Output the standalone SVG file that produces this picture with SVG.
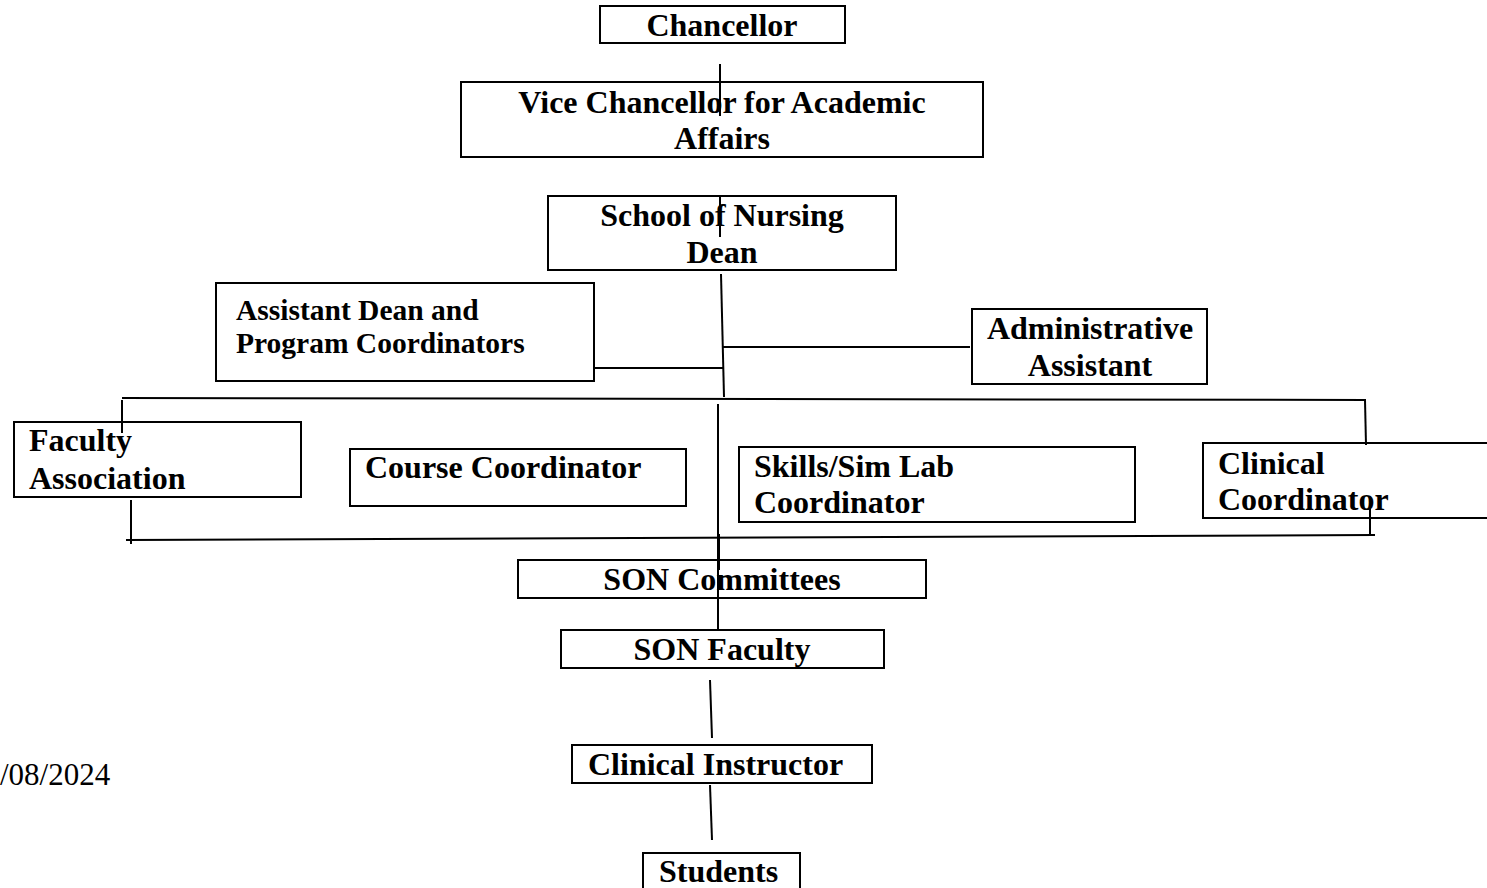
<svg xmlns="http://www.w3.org/2000/svg" width="1487" height="888" viewBox="0 0 1487 888">
<style>
.box{fill:#fff;stroke:#000;stroke-width:2}
.t{font-family:"Liberation Serif","Times New Roman",serif;font-weight:bold;font-size:32px;fill:#000}
.c{text-anchor:middle}
.s{font-size:29.5px}
.ln{stroke:#000;stroke-width:2;fill:none}
.date{font-family:"Liberation Serif","Times New Roman",serif;font-size:31px;fill:#000}
</style>
<rect width="1487" height="888" fill="#fff"/>
<g id="chancellor"><rect class="box" x="600" y="6" width="245" height="37"/><text class="t c" x="722" y="36">Chancellor</text></g>
<g id="vice-chancellor"><rect class="box" x="461" y="82" width="522" height="75"/><text class="t c" x="722" y="113">Vice Chancellor for Academic</text><text class="t c" x="722" y="149">Affairs</text></g>
<g id="dean"><rect class="box" x="548" y="196" width="348" height="74"/><text class="t c" x="722" y="226">School of Nursing</text><text class="t c" x="722" y="263">Dean</text></g>
<g id="assistant-dean"><rect class="box" x="216" y="283" width="378" height="98"/><text class="t s" x="236" y="320">Assistant Dean and</text><text class="t s" x="236" y="353">Program Coordinators</text></g>
<g id="admin-assistant"><rect class="box" x="972" y="309" width="235" height="75"/><text class="t c" x="1090" y="339">Administrative</text><text class="t c" x="1090" y="376">Assistant</text></g>
<g id="faculty-association"><rect class="box" x="14" y="422" width="287" height="75"/><text class="t" x="29" y="451">Faculty</text><text class="t" x="29" y="489">Association</text></g>
<g id="course-coordinator"><rect class="box" x="350" y="449" width="336" height="57"/><text class="t" x="365" y="478">Course Coordinator</text></g>
<g id="skills-lab"><rect class="box" x="739" y="447" width="396" height="75"/><text class="t" x="754" y="477">Skills/Sim Lab</text><text class="t" x="754" y="513">Coordinator</text></g>
<g id="clinical-coordinator"><rect class="box" x="1203" y="443" width="300" height="75"/><text class="t" x="1218" y="474">Clinical</text><text class="t" x="1218" y="510">Coordinator</text></g>
<g id="son-committees"><rect class="box" x="518" y="560" width="408" height="38"/><text class="t c" x="722" y="590">SON Committees</text></g>
<g id="son-faculty"><rect class="box" x="561" y="630" width="323" height="38"/><text class="t c" x="722" y="660">SON Faculty</text></g>
<g id="clinical-instructor"><rect class="box" x="572" y="745" width="300" height="38"/><text class="t" x="588" y="775">Clinical Instructor</text></g>
<g id="students"><rect class="box" x="643" y="853" width="157" height="45"/><text class="t" x="659" y="882">Students</text></g>
<g id="date"><text class="date" x="0" y="785">/08/2024</text></g>
<g id="connectors">
<line class="ln" x1="720" y1="64" x2="720" y2="116"/>
<line class="ln" x1="720" y1="197" x2="720" y2="237"/>
<line class="ln" x1="721" y1="274" x2="724" y2="397"/>
<line class="ln" x1="594" y1="368" x2="723" y2="368"/>
<line class="ln" x1="723" y1="347" x2="970" y2="347"/>
<line class="ln" x1="122" y1="398" x2="1366" y2="400"/>
<line class="ln" x1="122" y1="400" x2="122" y2="433"/>
<line class="ln" x1="1365" y1="400" x2="1366" y2="445"/>
<line class="ln" x1="718" y1="404" x2="718" y2="631"/>
<line class="ln" x1="719" y1="534" x2="719" y2="570" stroke-width="3"/>
<line class="ln" x1="126" y1="540" x2="1375" y2="535"/>
<line class="ln" x1="131" y1="500" x2="131" y2="544"/>
<line class="ln" x1="1370" y1="508" x2="1370" y2="536"/>
<line class="ln" x1="710" y1="680" x2="712" y2="738"/>
<line class="ln" x1="710" y1="785" x2="712" y2="840"/>
</g>
</svg>
